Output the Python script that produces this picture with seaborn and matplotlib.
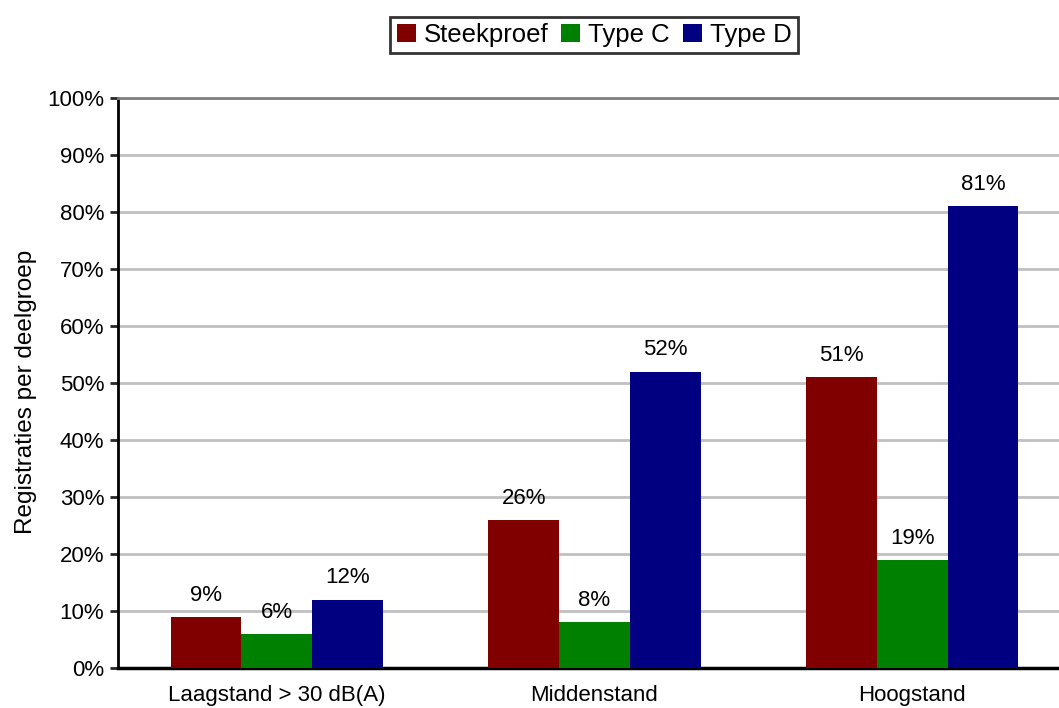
import pandas as pd
import seaborn as sns
import matplotlib.pyplot as plt
from matplotlib.ticker import PercentFormatter

# data
categories = ['Laagstand > 30 dB(A)', 'Middenstand', 'Hoogstand']
series = ['Steekproef', 'Type C', 'Type D']
steekproef = [9, 26, 51]
type_c = [6, 8, 19]
type_d = [12, 52, 81]
colors = ['#800000', '#008000', '#000080']

df = pd.DataFrame({
    'groep': categories * 3,
    'serie': [s for s in series for _ in categories],
    'waarde': steekproef + type_c + type_d,
})

sns.set_style('white')
plt.rcParams['font.family'] = ['Liberation Sans', 'DejaVu Sans']

fig = plt.figure(figsize=(10.59, 7.08), dpi=100)
ax = fig.add_axes([118 / 1059, 1 - 668 / 708, 953 / 1059, 570 / 708])

sns.barplot(data=df, x='groep', y='waarde', hue='serie', order=categories,
            hue_order=series, palette=colors, width=0.668, gap=0,
            saturation=1, linewidth=0, ax=ax, zorder=3, legend=True)

for cont in ax.containers:
    ax.bar_label(cont, labels=[f'{v:.0f}%' for v in cont.datavalues],
                 padding=8, fontsize=16, color='black')

ax.set_ylim(0, 100)
ax.set_xlim(-0.5, 2.5)
ax.set_yticks(range(0, 101, 10))
ax.yaxis.set_major_formatter(PercentFormatter(decimals=0))
ax.yaxis.grid(True, color='#c0c0c0', lw=2, zorder=0)
ax.set_xticks([-0.5, 0.5, 1.5], minor=True)
ax.tick_params(axis='x', which='major', length=0, pad=12, labelsize=16, labelcolor='black')
ax.tick_params(axis='x', which='minor', length=6, width=2, color='black', direction='out')
ax.tick_params(axis='y', length=6, width=2, direction='out', labelsize=16, pad=4,
               left=True, labelcolor='black')
ax.set_xlabel('')
ax.set_ylabel('Registraties per deelgroep', fontsize=17.5, color='black')
ax.yaxis.set_label_coords(-0.085, 0.485)

ax.spines['right'].set_visible(False)
ax.spines['top'].set_color('#808080')
ax.spines['top'].set_linewidth(2)
ax.spines['left'].set_color('black')
ax.spines['left'].set_linewidth(2)
ax.spines['bottom'].set_color('black')
ax.spines['bottom'].set_linewidth(2.5)

leg = ax.legend(loc='center', bbox_to_anchor=(594 / 1059, 1 - 35 / 708),
                bbox_transform=fig.transFigure, ncol=3, fontsize=18.5,
                frameon=True, fancybox=False, handlelength=0.75, handleheight=0.75,
                handletextpad=0.3, columnspacing=0.5, borderpad=0.25,
                borderaxespad=0)
leg.get_frame().set_edgecolor('black')
leg.get_frame().set_linewidth(2)
for t in leg.get_texts():
    t.set_color('black')

fig.savefig('out.png', dpi=100)
